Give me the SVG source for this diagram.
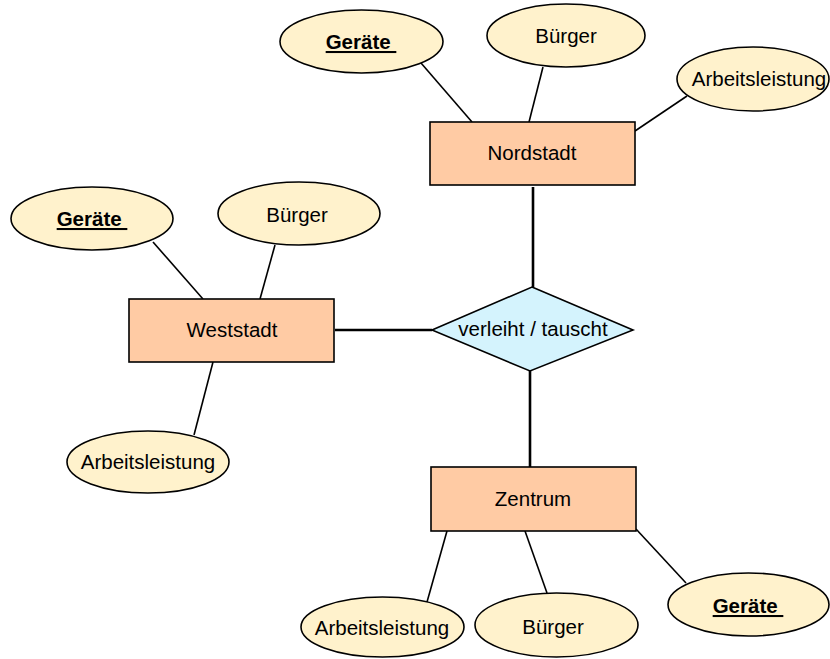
<svg xmlns="http://www.w3.org/2000/svg" width="830" height="659" viewBox="0 0 830 659">
  <style>
    .entity { fill: #FFCBA4; stroke: #000; stroke-width: 1.6; }
    .attr { fill: #FFF2CC; stroke: #000; stroke-width: 1.6; }
    .rel { fill: #D4F3FD; stroke: #000; stroke-width: 1.6; }
    .label { font-family: "Liberation Sans", Arial, sans-serif; font-size: 20.5px; fill: #000; text-anchor: middle; }
    .key { font-weight: bold; text-decoration: underline; }
    .link { stroke: #000; stroke-width: 1.6; fill: none; }
    .rel-link { stroke: #000; stroke-width: 2.6; fill: none; }
  </style>

  <!-- connectors -->
  <g id="connectors">
    <!-- relationship lines -->
    <line class="rel-link" x1="533" y1="187" x2="533" y2="287"/>
    <line class="rel-link" x1="335" y1="330" x2="432" y2="330"/>
    <line class="rel-link" x1="530" y1="371" x2="530" y2="467"/>
    <!-- Nordstadt attributes -->
    <line class="link" x1="421" y1="63" x2="472" y2="122"/>
    <line class="link" x1="543" y1="67" x2="529" y2="122"/>
    <line class="link" x1="687" y1="96" x2="635" y2="131"/>
    <!-- Weststadt attributes -->
    <line class="link" x1="153" y1="242" x2="203" y2="299"/>
    <line class="link" x1="275" y1="245" x2="260" y2="299"/>
    <line class="link" x1="213" y1="362" x2="194" y2="435"/>
    <!-- Zentrum attributes -->
    <line class="link" x1="447" y1="531" x2="427" y2="602"/>
    <line class="link" x1="525" y1="531" x2="547" y2="593"/>
    <line class="link" x1="636" y1="529" x2="686" y2="583"/>
  </g>

  <!-- relationship -->
  <g id="rel-verleiht">
    <polygon class="rel" points="532,287 633,330 530,371 432,330"/>
    <text class="label" x="533" y="336">verleiht / tauscht</text>
  </g>

  <!-- entities -->
  <g id="entity-nordstadt">
    <rect class="entity" x="430" y="122" width="205" height="63"/>
    <text class="label" x="532" y="160">Nordstadt</text>
  </g>
  <g id="entity-weststadt">
    <rect class="entity" x="129" y="299" width="205" height="63"/>
    <text class="label" x="232" y="337">Weststadt</text>
  </g>
  <g id="entity-zentrum">
    <rect class="entity" x="431" y="467" width="205" height="64"/>
    <text class="label" x="533" y="506">Zentrum</text>
  </g>

  <!-- Nordstadt attributes -->
  <g id="attr-nord-geraete">
    <ellipse class="attr" cx="361.5" cy="41.5" rx="81.5" ry="31.5"/>
    <text class="label key" x="361" y="49">Geräte&#160;</text>
  </g>
  <g id="attr-nord-buerger">
    <ellipse class="attr" cx="566" cy="35.5" rx="79" ry="31.5"/>
    <text class="label" x="566" y="43">Bürger</text>
  </g>
  <g id="attr-nord-arbeit">
    <ellipse class="attr" cx="753" cy="79" rx="76" ry="32"/>
    <text class="label" x="759" y="86">Arbeitsleistung</text>
  </g>

  <!-- Weststadt attributes -->
  <g id="attr-west-geraete">
    <ellipse class="attr" cx="92" cy="218.5" rx="81" ry="31.5"/>
    <text class="label key" x="92" y="226">Geräte&#160;</text>
  </g>
  <g id="attr-west-buerger">
    <ellipse class="attr" cx="299" cy="213.5" rx="81" ry="31.5"/>
    <text class="label" x="297" y="222">Bürger</text>
  </g>
  <g id="attr-west-arbeit">
    <ellipse class="attr" cx="148" cy="462" rx="81" ry="31"/>
    <text class="label" x="148" y="469">Arbeitsleistung</text>
  </g>

  <!-- Zentrum attributes -->
  <g id="attr-zentrum-arbeit">
    <ellipse class="attr" cx="382.5" cy="627" rx="81.5" ry="30"/>
    <text class="label" x="382" y="635">Arbeitsleistung</text>
  </g>
  <g id="attr-zentrum-buerger">
    <ellipse class="attr" cx="556.5" cy="625" rx="81.5" ry="32"/>
    <text class="label" x="553" y="634">Bürger</text>
  </g>
  <g id="attr-zentrum-geraete">
    <ellipse class="attr" cx="748.5" cy="604.5" rx="80.5" ry="31.5"/>
    <text class="label key" x="748" y="613">Geräte&#160;</text>
  </g>
</svg>
